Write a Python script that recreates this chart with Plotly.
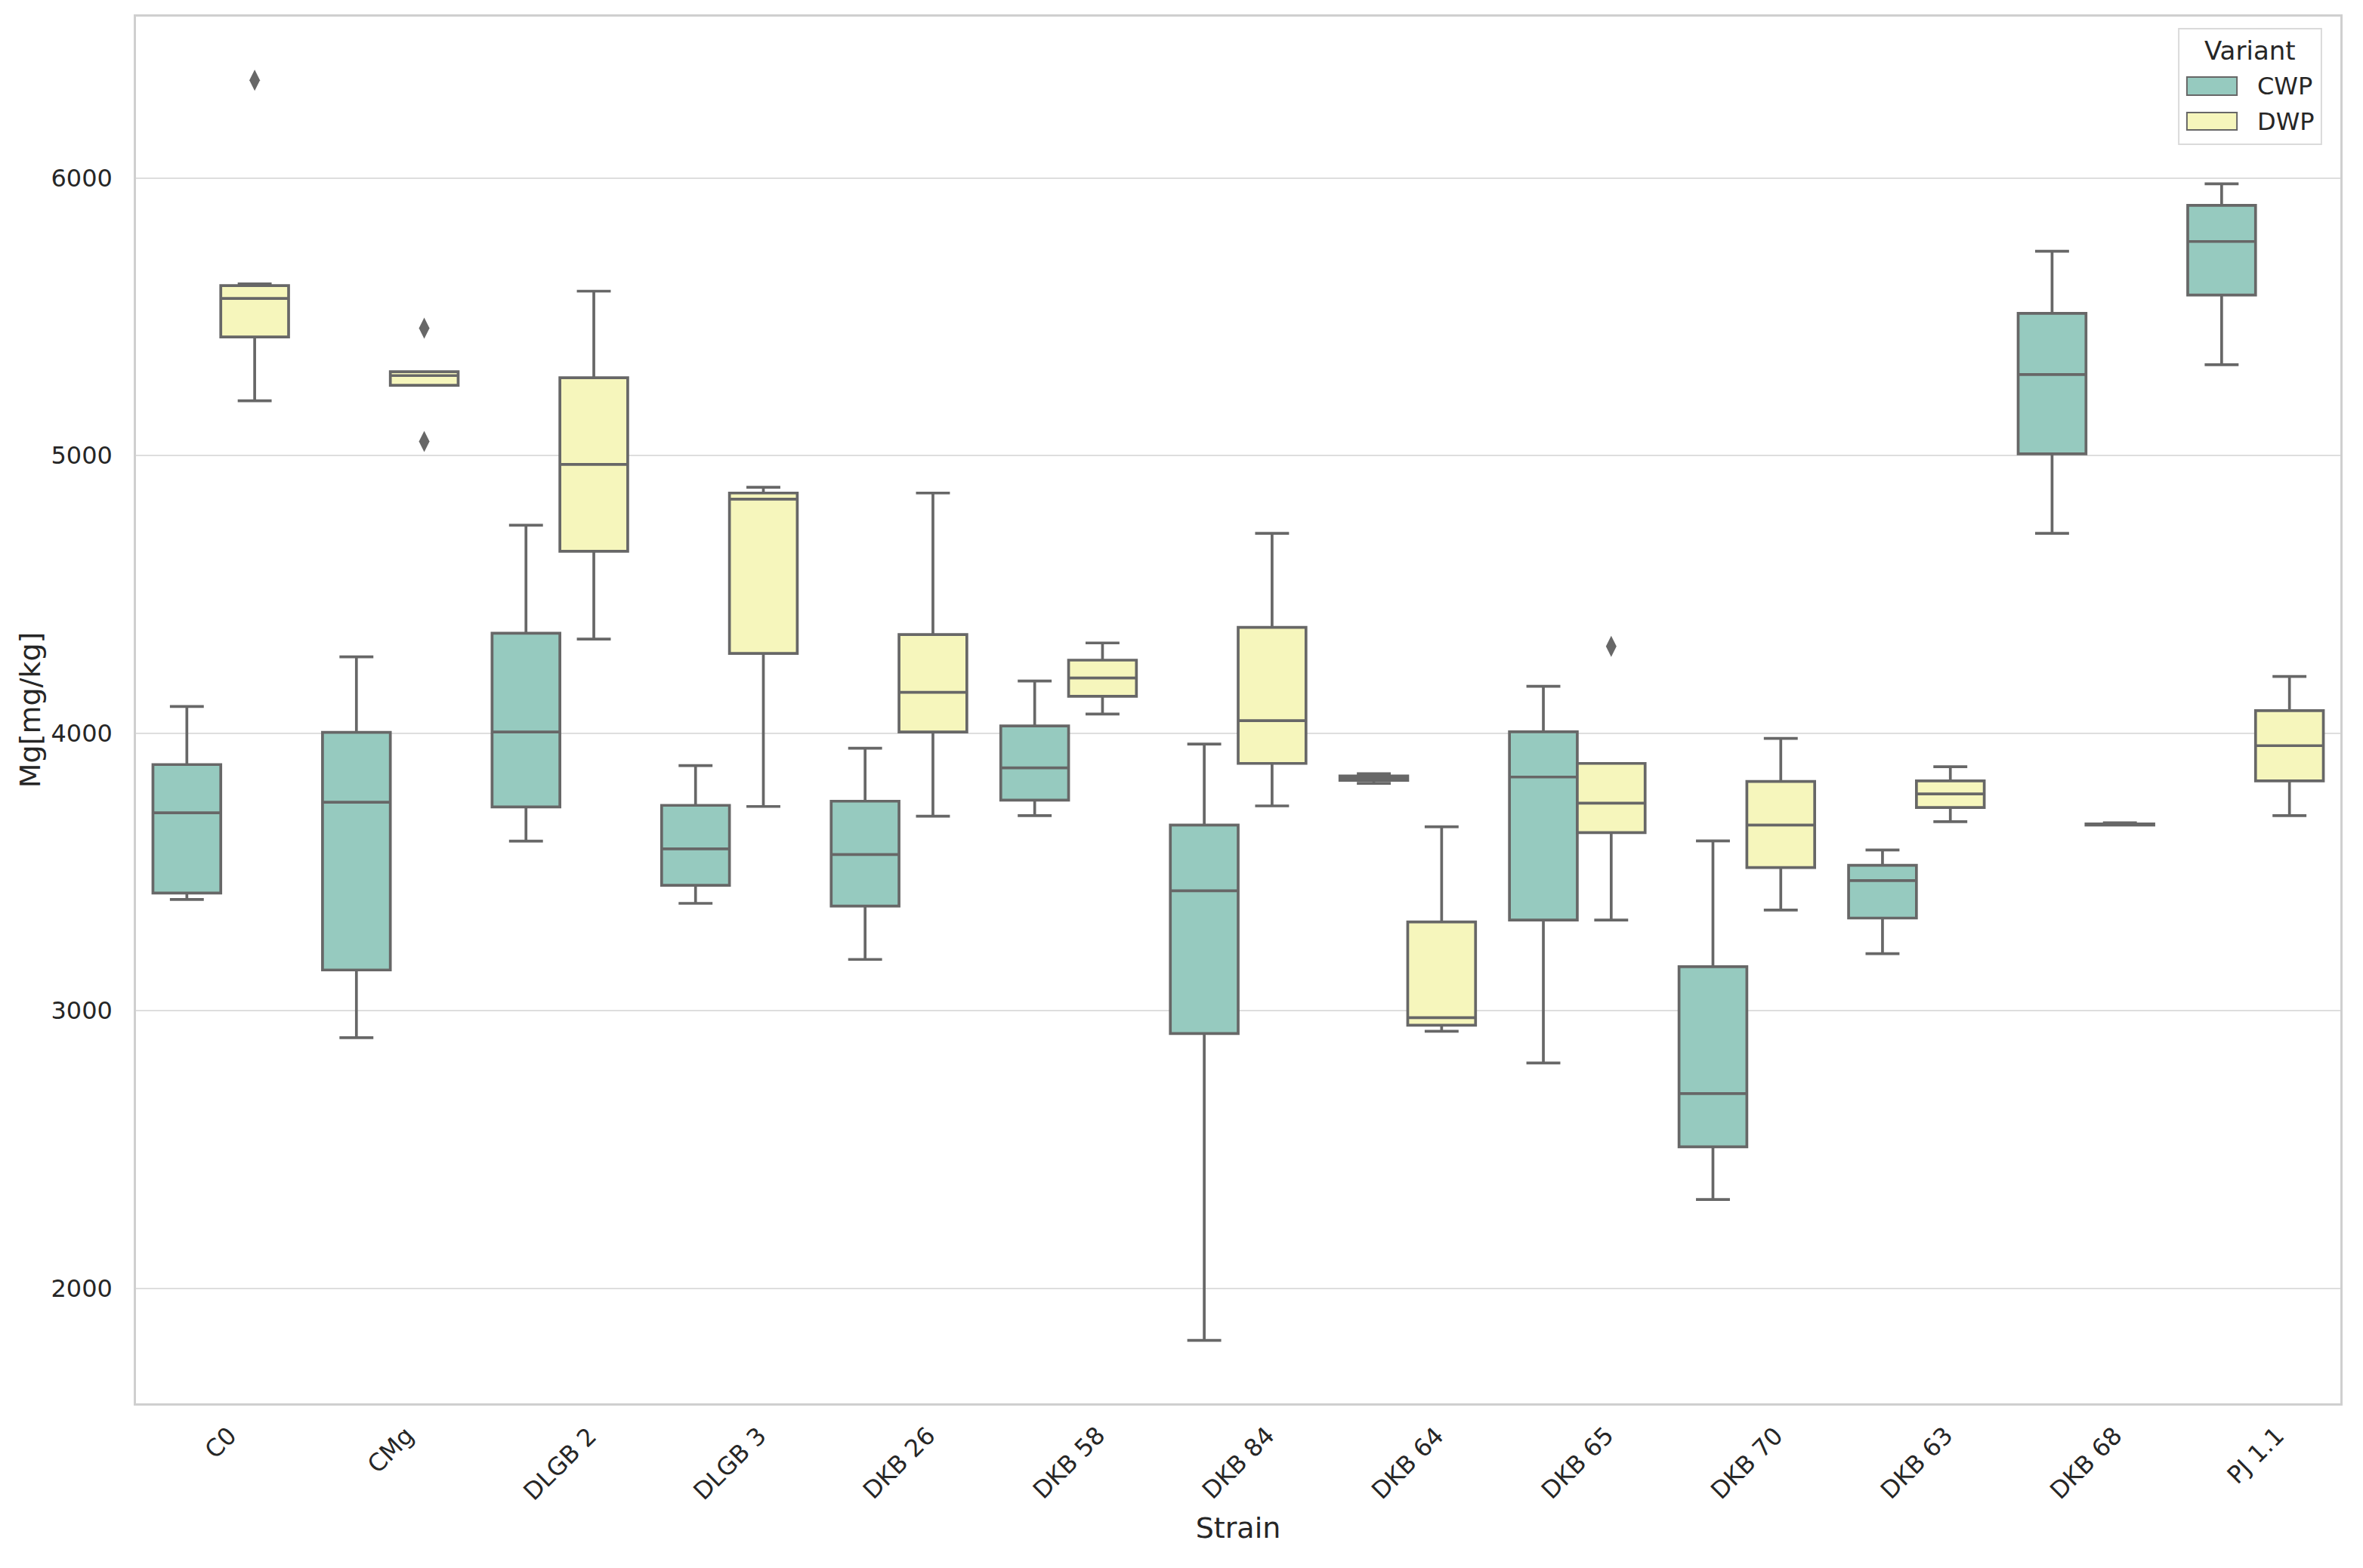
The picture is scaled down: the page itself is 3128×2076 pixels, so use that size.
import plotly.graph_objects as go

strains = ["C0", "CMg", "DLGB 2", "DLGB 3", "DKB 26", "DKB 58", "DKB 84",
           "DKB 64", "DKB 65", "DKB 70", "DKB 63", "DKB 68", "PJ 1.1"]
variants = ["CWP", "DWP"]

# CWP box statistics (mg/kg)
cwp_low = [3401, 2903, 3611, 3387, 3185, 3703, 1813, 3819, 2812, 2320, 3206, 4720, 5327]
cwp_q1 = [3424, 3147, 3734, 3452, 3377, 3759, 2918, 3830, 3327, 2510, 3334, 5006, 5578]
cwp_median = [3713, 3751, 4004, 3583, 3563, 3875, 3432, 3838, 3842, 2702, 3469, 5292, 5771]
cwp_q3 = [3887, 4003, 4360, 3740, 3755, 4026, 3669, 3846, 4005, 3159, 3524, 5512, 5901]
cwp_high = [4096, 4275, 4749, 3883, 3946, 4188, 3961, 3854, 4169, 3612, 3579, 5736, 5979]

# DWP box statistics (mg/kg)
dwp_low = [5197, 5253, 4339, 3736, 3701, 4069, 3738, 2926, 3327, 3363, 3681, 3669, 3703]
dwp_q1 = [5427, 5253, 4655, 4287, 4004, 4133, 3891, 2948, 3642, 3516, 3732, 3669, 3828]
dwp_median = [5566, 5288, 4968, 4843, 4147, 4199, 4045, 2975, 3748, 3669, 3781, 3671, 3955]
dwp_q3 = [5612, 5302, 5280, 4865, 4355, 4263, 4381, 3320, 3891, 3826, 3828, 3673, 4081]
dwp_high = [5618, 5302, 5592, 4886, 4865, 4325, 4720, 3663, 3891, 3981, 3879, 3677, 4204]

# Outliers
out_strain = ["C0", "CMg", "CMg", "DKB 65"]
out_variant = ["DWP", "DWP", "DWP", "DWP"]
out_value = [6352, 5459, 5051, 4313]

y_ticks = [2000, 3000, 4000, 5000, 6000]

CWP_FILL = "#96cabf"
DWP_FILL = "#f6f6bc"
LINE = "#676767"
TEXT = "#262626"
GRID = "#dedede"
FONT = "DejaVu Sans"

fills = {"CWP": CWP_FILL, "DWP": DWP_FILL}
offset = {"CWP": -0.2, "DWP": 0.2}
idx = list(range(len(strains)))

fig = go.Figure()

for name, lo, q1, med, q3, hi in [
    ("CWP", cwp_low, cwp_q1, cwp_median, cwp_q3, cwp_high),
    ("DWP", dwp_low, dwp_q1, dwp_median, dwp_q3, dwp_high),
]:
    fig.add_trace(go.Box(
        name=name,
        x=[i + offset[name] for i in idx],
        q1=q1, median=med, q3=q3, lowerfence=lo, upperfence=hi,
        width=0.4,
        orientation="v",
        fillcolor=fills[name],
        line=dict(color=LINE, width=3.7),
        whiskerwidth=0.5,
        boxpoints=False,
        hoverinfo="y",
        showlegend=False,
    ))

fig.add_trace(go.Scatter(
    x=[strains.index(s) + offset[v] for s, v in zip(out_strain, out_variant)],
    y=out_value,
    mode="markers",
    marker=dict(symbol="diamond-tall", size=20, color=LINE, line=dict(width=0)),
    showlegend=False,
    hoverinfo="y",
))

annotations = []
for i, s in enumerate(strains):
    annotations.append(dict(
        x=i, xref="x", y=0, yref="paper", yshift=-21,
        text=s, showarrow=False, textangle=-45,
        xanchor="center", yanchor="top",
        font=dict(family=FONT, size=32, color=TEXT),
    ))

# Legend (drawn in paper coordinates)
shapes = [dict(
    type="rect", xref="paper", yref="paper",
    x0=0.9267, x1=0.9914, y0=0.9080, y1=0.9913,
    line=dict(color="#dadada", width=2), fillcolor="white", layer="above",
)]
annotations.append(dict(
    x=0.9592, y=0.9755, xref="paper", yref="paper", text="Variant",
    showarrow=False, xanchor="center", yanchor="middle",
    font=dict(family=FONT, size=34, color=TEXT),
))
legend_y = [(0.9434, 0.9564), (0.9183, 0.9308)]
for v, (y0, y1) in zip(variants, legend_y):
    shapes.append(dict(
        type="rect", xref="paper", yref="paper",
        x0=0.9304, x1=0.9531, y0=y0, y1=y1,
        line=dict(color=LINE, width=2), fillcolor=fills[v], layer="above",
    ))
    annotations.append(dict(
        x=0.9616, y=(y0 + y1) / 2, xref="paper", yref="paper", text=v,
        showarrow=False, xanchor="left", yanchor="middle",
        font=dict(family=FONT, size=32, color=TEXT),
    ))

fig.update_layout(
    width=3128, height=2076, autosize=False,
    margin=dict(l=180, r=30, t=22, b=218),
    paper_bgcolor="white", plot_bgcolor="white",
    font=dict(family=FONT, size=32, color=TEXT),
    showlegend=False,
    annotations=annotations,
    shapes=shapes,
)

fig.update_xaxes(
    range=[-0.5, len(strains) - 0.5],
    tickvals=idx, ticktext=strains, showticklabels=False,
    showgrid=False, zeroline=False,
    showline=True, mirror=True, linecolor="#cfcfcf", linewidth=2.5,
    title=dict(text="Strain", font=dict(family=FONT, size=38, color=TEXT), standoff=150),
)
fig.update_yaxes(
    range=[1586, 6581],
    tickvals=y_ticks, ticktext=[str(v) for v in y_ticks],
    showgrid=True, gridcolor=GRID, gridwidth=2, zeroline=False,
    showline=True, mirror=True, linecolor="#cfcfcf", linewidth=2.5,
    ticks="", ticklabelstandoff=22,
    tickfont=dict(family=FONT, size=32, color=TEXT),
    title=dict(text="Mg[mg/kg]", font=dict(family=FONT, size=38, color=TEXT), standoff=3),
)

fig.write_html("out.html", config={"displayModeBar": False},
               post_script="document.body.style.margin='0';")
